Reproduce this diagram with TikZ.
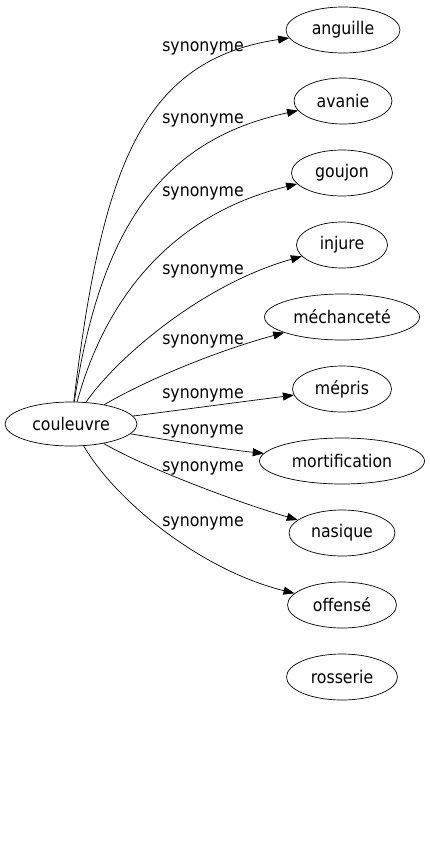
\documentclass[tikz,border=0pt]{standalone}
\usepackage{fontspec}
\newfontfamily\dvc{DejaVu Sans Condensed}
\usetikzlibrary{shapes.geometric,arrows.meta}

\begin{document}
\begin{tikzpicture}[x=1pt,y=-1pt,line width=0.7pt,
  mot/.style={draw,ellipse,inner xsep=1pt,inner ysep=0pt,minimum height=46pt,font=\dvc\fontsize{17.5}{20}\selectfont},
  lab/.style={inner sep=0pt,font=\dvc\fontsize{17.5}{20}\selectfont},
  syn/.style={-{Triangle[length=11pt,width=8pt]}}]
\useasboundingbox (0,0) rectangle (430,851);
\node[mot,minimum width=132pt,minimum height=44pt] (couleuvre) at (71,424) {couleuvre};
\node[mot,minimum width=114pt] (anguille) at (343,30) {anguille};
\node[mot,minimum width=98pt] (avanie) at (343,101) {avanie};
\node[mot,minimum width=101pt] (goujon) at (342,173) {goujon};
\node[mot,minimum width=91pt] (injure) at (342,245) {injure};
\node[mot,minimum width=155pt] (mechancete) at (342,317) {méchanceté};
\node[mot,minimum width=99pt] (mepris) at (342,389) {mépris};
\node[mot,minimum width=165pt] (mortification) at (342,461) {mortification};
\node[mot,minimum width=106pt] (nasique) at (342,533) {nasique};
\node[mot,minimum width=109pt] (offense) at (342,605) {offensé};
\node[mot,minimum width=111pt] (rosserie) at (342,677) {rosserie};
\draw[syn] (couleuvre) .. controls (102,170) and (140,60) .. (anguille);
\draw[syn] (couleuvre) .. controls (100,230) and (160,140) .. (avanie);
\draw[syn] (couleuvre) .. controls (105,300) and (170,215) .. (goujon);
\draw[syn] (couleuvre) .. controls (115,360) and (200,285) .. (injure);
\draw[syn] (couleuvre) .. controls (150,378) and (220,350) .. (mechancete);
\draw[syn] (couleuvre) .. controls (180,410) and (240,402) .. (mepris);
\draw[syn] (couleuvre) .. controls (180,442) and (230,450) .. (mortification);
\draw[syn] (couleuvre) .. controls (140,465) and (230,500) .. (nasique);
\draw[syn] (couleuvre) .. controls (115,500) and (200,570) .. (offense);
\node[lab] (languille) at (203,48) {synonyme};
\node[lab] (lavanie) at (203,120) {synonyme};
\node[lab] (lgoujon) at (203,193) {synonyme};
\node[lab] (linjure) at (203,271) {synonyme};
\node[lab] (lmechancete) at (203,341) {synonyme};
\node[lab] (lmepris) at (203,395) {synonyme};
\node[lab] (lmortification) at (203,431) {synonyme};
\node[lab] (lnasique) at (203,468) {synonyme};
\node[lab] (loffense) at (203,523) {synonyme};
\end{tikzpicture}
\end{document}
